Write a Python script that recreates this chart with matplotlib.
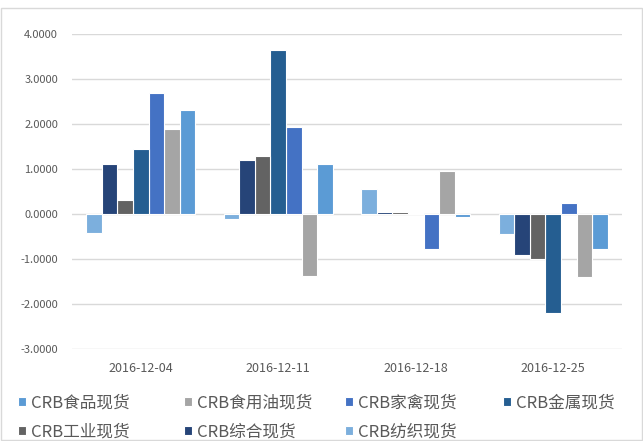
import numpy as np
import matplotlib.pyplot as plt
from matplotlib.patches import Rectangle

plt.rcParams['font.family'] = ['Noto Sans CJK SC', 'DejaVu Sans']

dates = ['2016-12-04', '2016-12-11', '2016-12-18', '2016-12-25']
names = ['CRB食品现货', 'CRB食用油现货', 'CRB家禽现货', 'CRB金属现货',
         'CRB工业现货', 'CRB综合现货', 'CRB纺织现货']
colors = ['#5B9BD5', '#A5A5A5', '#4472C4', '#255E91', '#636363', '#264478', '#7CAFDD']

food = [2.31, 1.11, -0.06, -0.78]
oil = [1.88, -1.38, 0.95, -1.41]
poultry = [2.68, 1.94, -0.78, 0.25]
metal = [1.44, 3.64, 0.02, -2.21]
industry = [0.31, 1.29, 0.04, -0.99]
composite = [1.11, 1.21, 0.04, -0.92]
textile = [-0.42, -0.12, 0.55, -0.45]
series = [food, oil, poultry, metal, industry, composite, textile]

fig = plt.figure(figsize=(6.43, 4.41), dpi=100)
fig.patches.append(Rectangle((0.0015, 0.002), 0.997, 0.98, transform=fig.transFigure,
                             fill=False, edgecolor='#D9D9D9', linewidth=1))
ax = fig.add_axes([72 / 643, 1 - 349 / 441, 550 / 643, 315 / 441])

x = np.arange(len(dates))
w = 0.1135
handles = []
# bars are drawn in reverse legend order (textile first)
for k, (vals, c, n) in enumerate(zip(series, colors, names)):
    pos = 6 - k
    b = ax.bar(x + (pos - 3) * w, vals, w, color=c, edgecolor='white', linewidth=0.8,
               label=n, zorder=3)
    handles.append(b)

ax.set_xlim(-0.5, 3.5)
ax.set_ylim(-3, 4)
ax.set_yticks(np.arange(-3, 5, 1))
ax.set_yticklabels(['%.4f' % v for v in np.arange(-3, 5, 1)])
ax.set_xticks(x)
ax.set_xticklabels(dates)
ax.grid(axis='y', color='#D9D9D9', linewidth=1, zorder=0)
for s in ax.spines.values():
    s.set_visible(False)
ax.tick_params(axis='both', length=0, colors='#595959')
ax.tick_params(axis='y', labelsize=8, pad=10)
ax.tick_params(axis='x', labelsize=9, pad=9)

# legend laid out in fixed-width columns, row by row
col_x = [18, 184, 345, 503]
row_y = [403, 432]
for i, (hd, n) in enumerate(zip(handles, names)):
    cx = col_x[i % 4] / 643
    cy = 1 - row_y[i // 4] / 441
    lg = fig.legend([hd], [n], loc='center left', bbox_to_anchor=(cx, cy),
                    frameon=False, fontsize=12, handlelength=0.45, handleheight=0.45,
                    handletextpad=0.35, borderpad=0, borderaxespad=0,
                    labelcolor='#595959')

fig.savefig('out.png', dpi=100)
